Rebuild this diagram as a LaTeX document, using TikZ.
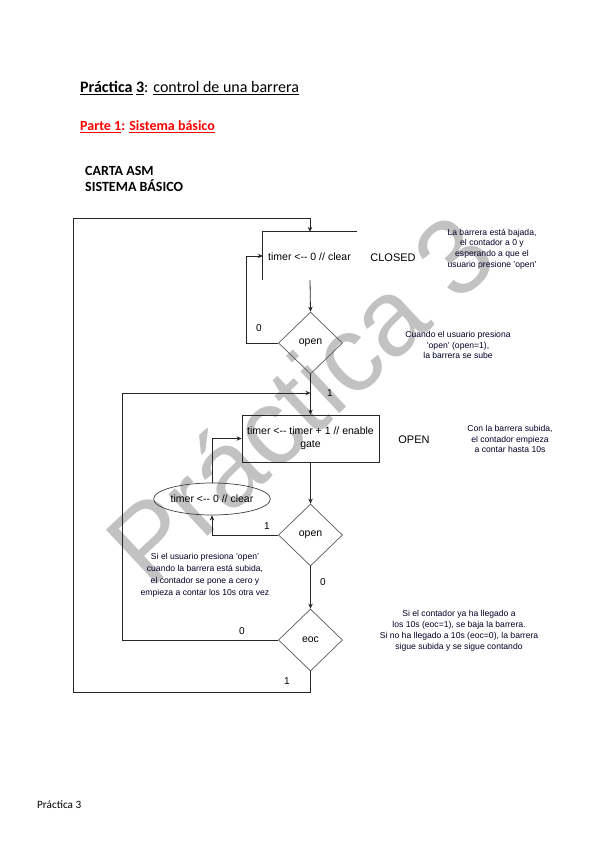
\documentclass[tikz,border=0pt]{standalone}
\usepackage{fontspec}
\setmainfont{Liberation Sans}
\newfontfamily\calfont{Carlito}
\usetikzlibrary{shapes.geometric,arrows.meta}
\newcommand\tlarr{<-\kern0pt-\kern0pt}
\begin{document}
\begin{tikzpicture}[x=1pt,y=-1pt,
  line/.style={draw=black!85, line width=0.8pt},
  conn/.style={line, -{Stealth[length=5pt,width=4.5pt]}},
  dec/.style={diamond, draw=black!65, line width=0.7pt, minimum width=64pt, minimum height=62pt, inner sep=0pt, font=\fontsize{10.5}{12}\selectfont},
  lbl/.style={font=\fontsize{10}{12}\selectfont, inner sep=1pt},
  note/.style={font=\fontsize{8.6}{10.6}\selectfont, align=center, text=black!85!blue, inner sep=0pt},
  stname/.style={font=\fontsize{11}{13}\selectfont, inner sep=0pt},
  head/.style={anchor=base west, inner sep=0pt, font=\calfont\bfseries\fontsize{14}{16}\selectfont}]
\useasboundingbox (0,0) rectangle (599,848);
% watermark
\node[rotate=43, text=black!24, font=\fontsize{108}{108}\selectfont, inner sep=0pt] (wm) at (299,398) {Práctica 3};
% headings
\node[anchor=base west, inner sep=0pt, font=\calfont\fontsize{16}{18}\selectfont] (title) at (80,93) {\underline{\textbf{Práctica}} \underline{\textbf{3}}: \underline{control de una barrera}};
\node[head, text=red] (parte) at (80,131) {\underline{Parte 1}: \underline{Sistema básico}};
\node[head] (carta) at (85,175) {CARTA ASM};
\node[head] (sist) at (85,191) {SISTEMA BÁSICO};
\node[anchor=base west, inner sep=0pt, font=\calfont\fontsize{11.2}{13}\selectfont] (foot) at (37,808) {Práctica 3};
% states
\node[minimum width=94pt, minimum height=48pt, inner sep=0pt] (closed) at (310,256) {};
\node[font=\fontsize{10.5}{12}\selectfont, anchor=west, inner sep=0pt] (closedtxt) at (268,257) {timer \tlarr\ 0 // clear};
\draw[line] (closed.south west) -- (closed.north west) -- (closed.north east);
\node[dec] (d1) at (310.5,343) {open};
\node[draw=black!85, line width=0.8pt, minimum width=137pt, minimum height=47pt, inner sep=0pt, align=center, font=\fontsize{10.5}{13.5}\selectfont] (openbox) at (310.5,438.5) {timer \tlarr\ timer + 1 // enable\\gate};
\node[ellipse, draw=black!75, line width=0.7pt, minimum width=110pt, minimum height=32pt, inner sep=0pt, font=\fontsize{10.5}{12}\selectfont] (ell) at (212,499) {timer \tlarr\ 0 // clear};
\node[dec] (d2) at (310.5,535) {open};
\node[dec] (eoc) at (310.5,640) {eoc};
\coordinate (j1) at (310.5,393);
% connectors
\draw[conn] (eoc.south) |- (73,692) -- (73,218) -| (closed.north);
\draw[conn] (closed.south) -- (d1.north);
\draw[conn] (d1.west) -| ([xshift=-16pt]closed.west) -- (closed.west);
\draw[conn] (d1.south) -- (openbox.north);
\draw[conn] (eoc.west) -| (122,393) -- (j1);
\draw[conn] (openbox.south) -- (d2.north);
\draw[conn] (d2.west) -| (ell.south);
\draw[conn] (ell.north) |- (openbox.west);
\draw[conn] (d2.south) -- (eoc.north);
% branch labels
\node[lbl] (l1) at (259,328) {0};
\node[lbl] (l2) at (330,393) {1};
\node[lbl] (l3) at (267,526) {1};
\node[lbl] (l4) at (323,582) {0};
\node[lbl] (l5) at (242,631) {0};
\node[lbl] (l6) at (287,681) {1};
% state names
\node[stname] (sc) at (393,258) {CLOSED};
\node[stname] (so) at (414,440) {OPEN};
% notes
\node[note] (n1) at (492,249) {La barrera está bajada,\\el contador a 0 y\\esperando a que el\\usuario presione 'open'};
\node[note] (n2) at (458,345) {Cuando el usuario presiona\\'open' (open=1),\\la barrera se sube};
\node[note] (n3) at (510,439) {Con la barrera subida,\\el contador empieza\\a contar hasta 10s};
\node[note, font=\fontsize{8.6}{12}\selectfont] (n4) at (205,575) {Si el usuario presiona 'open'\\cuando la barrera está subida,\\el contador se pone a cero y\\empieza a contar los 10s otra vez};
\node[note, font=\fontsize{8.6}{11}\selectfont] (n5) at (459,631) {Si el contador ya ha llegado a\\los 10s (eoc=1), se baja la barrera.\\Si no ha llegado a 10s (eoc=0), la barrera\\sigue subida y se sigue contando};
\end{tikzpicture}
\end{document}
